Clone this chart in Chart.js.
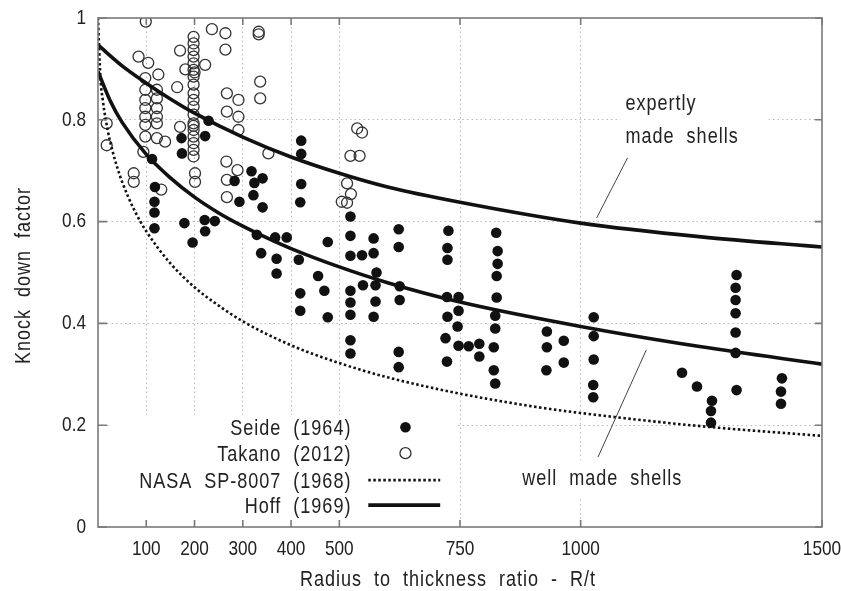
<!DOCTYPE html>
<html><head><meta charset="utf-8">
<script src="https://cdn.jsdelivr.net/npm/chart.js@4/dist/chart.umd.min.js"></script>
<style>html,body{margin:0;padding:0;background:#fff}canvas{display:block}</style>
</head><body>
<canvas id="c" width="841" height="591"></canvas>
<script>
// ---------- data ----------
const xTickValues = [100, 200, 300, 400, 500, 750, 1000, 1500];
const yTickValues = [0, 0.2, 0.4, 0.6, 0.8, 1];

const seideRt = [112,118,117,117,117,173,174,179,196,222,229,221,242,222,283,293,318,324,322,341,341,329,367,391,338,370,370,421,421,421,419,416,419,419,456,469,476,476,523,523,523,523,523,523,523,523,547,549,571,571,577,575,575,571,623,623,625,625,623,623,726,724,724,723,747,747,724,745,720,747,768,790,790,723,825,828,828,826,826,823,823,820,820,823,930,930,929,965,965,1027,1027,1027,1026,1026,1210,1241,1272,1270,1270,1323,1321,1321,1321,1321,1321,1323,1417,1415,1415];
const seideK  = [.723,.668,.639,.618,.587,.764,.734,.597,.559,.768,.798,.603,.601,.581,.680,.639,.699,.676,.652,.685,.628,.574,.569,.569,.538,.527,.498,.759,.733,.674,.638,.525,.459,.425,.493,.464,.560,.412,.610,.572,.533,.464,.441,.417,.367,.341,.534,.475,.567,.538,.500,.475,.443,.413,.585,.550,.473,.446,.344,.314,.582,.548,.525,.452,.452,.425,.413,.394,.371,.356,.355,.360,.335,.325,.578,.542,.517,.493,.451,.415,.390,.353,.308,.282,.384,.353,.308,.366,.323,.412,.375,.329,.279,.255,.303,.276,.248,.228,.205,.495,.470,.446,.420,.382,.342,.269,.292,.266,.242];

const takanoRt = [18,18,74,74,84,99,104,125,98,98,98,98,98,98,122,122,122,122,122,98,122,139,94,131,164,170,170,181,198,198,198,198,198,198,198,198,198,198,198,198,198,198,198,198,198,198,200,198,201,201,222,236,264,264,267,267,266,267,267,289,291,291,291,333,333,336,336,353,505,516,516,524,523,542,537,547];
const takanoK  = [.793,.750,.695,.678,.924,.993,.912,.889,.882,.859,.839,.823,.806,.790,.859,.842,.823,.806,.793,.767,.764,.757,.737,.663,.864,.936,.786,.899,.963,.950,.937,.924,.911,.898,.885,.869,.852,.839,.826,.810,.793,.780,.767,.754,.741,.728,.893,.788,.695,.678,.908,.978,.970,.938,.852,.816,.718,.682,.648,.701,.839,.806,.780,.973,.968,.875,.842,.734,.639,.637,.675,.654,.729,.729,.783,.775];

const nasaRt = [0,5,10,20,30,40,50,75,100,150,200,250,300,400,500,600,750,900,1000,1250,1500];
const nasaK  = [1.000,.883,.838,.780,.739,.706,.678,.623,.581,.518,.471,.435,.404,.357,.322,.294,.262,.237,.224,.198,.179];

const hoffUpperRt = [0,50,100,150,200,300,400,500,600,750,1000,1250,1500];
const hoffUpperK  = [.947,.906,.872,.841,.813,.766,.727,.695,.668,.638,.597,.570,.550];

const hoffLowerRt = [0,25,50,100,150,200,250,300,350,400,500,600,750,1000,1250,1500];
const hoffLowerK  = [.895,.838,.795,.732,.686,.648,.617,.591,.568,.547,.511,.480,.442,.394,.354,.320];

const legendLabels = ['Seide  (1964)', 'Takano  (2012)', 'NASA  SP-8007  (1968)', 'Hoff  (1969)'];
const xTitle = 'Radius  to  thickness  ratio  -  R/t';
const yTitle = 'Knock  down  factor';
const noteUpper = ['expertly', 'made  shells'];
const noteLower = 'well  made  shells';

// ---------- build ----------
const zip = (a, b) => a.map((v, i) => ({x: v, y: b[i]}));
const FONT = '"Liberation Sans", Arial, sans-serif';
const INK = '#222';
const SX = 0.82; // horizontal condensing of all text

const condense = {
  id: 'condense',
  beforeInit(chart) {
    const ctx = chart.ctx;
    const orig = CanvasRenderingContext2D.prototype.fillText;
    ctx.fillText = function (text, x, y, maxWidth) {
      this.save();
      this.translate(x, y);
      this.scale(SX, 1);
      if (maxWidth === undefined) orig.call(this, text, 0, 0);
      else orig.call(this, text, 0, 0, maxWidth / SX);
      this.restore();
    };
  }
};

const decor = {
  id: 'decor',
  beforeDatasetsDraw(chart) {
    const {ctx, scales: {x, y}} = chart;
    const boxes = [[25, 0, 740, 0.22], [1082, 0.741, 1389, 0.862], [865, 0.057, 1228, 0.132]];
    ctx.save();
    ctx.fillStyle = '#fff';
    for (const b of boxes) {
      const x0 = x.getPixelForValue(b[0]), x1 = x.getPixelForValue(b[2]);
      const y0 = y.getPixelForValue(b[3]), y1 = y.getPixelForValue(b[1]);
      ctx.fillRect(x0, y0, x1 - x0, y1 - y0);
    }
    ctx.restore();
  },
  afterDraw(chart) {
    const {ctx, chartArea: a, scales: {x, y}} = chart;
    ctx.save();
    // frame
    ctx.strokeStyle = '#7a7a7a';
    ctx.lineWidth = 1.6;
    ctx.strokeRect(a.left, a.top, a.right - a.left, a.bottom - a.top);
    // inward ticks
    ctx.beginPath();
    for (const v of xTickValues) {
      const px = x.getPixelForValue(v);
      ctx.moveTo(px, a.bottom); ctx.lineTo(px, a.bottom - 7);
      ctx.moveTo(px, a.top); ctx.lineTo(px, a.top + 7);
    }
    for (const v of yTickValues) {
      const py = y.getPixelForValue(v);
      ctx.moveTo(a.left, py); ctx.lineTo(a.left + 9, py);
      ctx.moveTo(a.right, py); ctx.lineTo(a.right - 7, py);
    }
    ctx.stroke();

    ctx.fillStyle = INK;
    ctx.font = '22px ' + FONT;
    ctx.letterSpacing = '1.2px';
    // axis titles
    ctx.textAlign = 'center';
    ctx.textBaseline = 'alphabetic';
    ctx.fillText(xTitle, (a.left + a.right) / 2 - 12, 586);
    ctx.save();
    ctx.translate(30, (a.top + a.bottom) / 2 + 3);
    ctx.rotate(-Math.PI / 2);
    ctx.fillText(yTitle, 0, 0);
    ctx.restore();

    // legend
    const rows = [0.196, 0.145, 0.092, 0.043];
    const tx = x.getPixelForValue(525), sx = x.getPixelForValue(637);
    const l0 = x.getPixelForValue(560), l1 = x.getPixelForValue(709);
    ctx.textAlign = 'right';
    rows.forEach((r, i) => {
      const py = y.getPixelForValue(r);
      ctx.fillStyle = INK;
      ctx.fillText(legendLabels[i], tx, py + 8);
      ctx.beginPath();
      if (i === 0) {
        ctx.fillStyle = '#111';
        ctx.arc(sx, py, 5.3, 0, Math.PI * 2); ctx.fill();
      } else if (i === 1) {
        ctx.strokeStyle = '#333'; ctx.lineWidth = 1.3;
        ctx.arc(sx, py, 5.5, 0, Math.PI * 2); ctx.stroke();
      } else if (i === 2) {
        ctx.strokeStyle = '#111'; ctx.lineWidth = 2.6; ctx.setLineDash([2.5, 2.5]);
        ctx.moveTo(l0, py); ctx.lineTo(l1, py); ctx.stroke(); ctx.setLineDash([]);
      } else {
        ctx.strokeStyle = '#111'; ctx.lineWidth = 3.6;
        ctx.moveTo(l0, py); ctx.lineTo(l1, py); ctx.stroke();
      }
    });

    // annotations
    ctx.fillStyle = INK;
    ctx.textAlign = 'left';
    ctx.fillText(noteUpper[0], x.getPixelForValue(1093), y.getPixelForValue(0.819));
    ctx.fillText(noteUpper[1], x.getPixelForValue(1093), y.getPixelForValue(0.754));
    ctx.fillText(noteLower, x.getPixelForValue(879), y.getPixelForValue(0.0825));
    ctx.strokeStyle = '#444'; ctx.lineWidth = 1;
    ctx.beginPath();
    ctx.moveTo(x.getPixelForValue(1097), y.getPixelForValue(0.725));
    ctx.lineTo(x.getPixelForValue(1033), y.getPixelForValue(0.607));
    ctx.moveTo(x.getPixelForValue(1136), y.getPixelForValue(0.348));
    ctx.lineTo(x.getPixelForValue(1036), y.getPixelForValue(0.1375));
    ctx.stroke();
    ctx.restore();
  }
};

const gridColor = (edgeVals) => (c) => (c.tick && edgeVals.includes(c.tick.value)) ? 'rgba(0,0,0,0)' : '#b8b8b8';

new Chart(document.getElementById('c'), {
  type: 'scatter',
  data: {
    datasets: [
      {label: 'Hoff (1969) expertly', data: zip(hoffUpperRt, hoffUpperK), showLine: true, pointRadius: 0,
       borderColor: '#111', borderWidth: 3.6, cubicInterpolationMode: 'monotone', order: 0},
      {label: 'Hoff (1969) well', data: zip(hoffLowerRt, hoffLowerK), showLine: true, pointRadius: 0,
       borderColor: '#111', borderWidth: 3.6, cubicInterpolationMode: 'monotone', order: 0},
      {label: 'NASA SP-8007 (1968)', data: zip(nasaRt, nasaK), showLine: true, pointRadius: 0,
       borderColor: '#111', borderWidth: 2.6, borderDash: [2.5, 2.5], cubicInterpolationMode: 'monotone', order: 0},
      {label: 'Seide (1964)', data: zip(seideRt, seideK), pointRadius: 5.3, backgroundColor: '#111',
       borderColor: '#111', borderWidth: 0, order: 1},
      {label: 'Takano (2012)', data: zip(takanoRt, takanoK), pointRadius: 5.5, backgroundColor: 'rgba(255,255,255,0)',
       borderColor: '#333', borderWidth: 1.3, order: 1}
    ]
  },
  options: {
    responsive: false,
    devicePixelRatio: 1,
    animation: false,
    events: [],
    layout: {padding: {top: 18, right: 19, bottom: 0, left: 0}},
    plugins: {legend: {display: false}, tooltip: {enabled: false}},
    scales: {
      x: {
        type: 'linear', min: 0, max: 1500,
        afterBuildTicks: (s) => { s.ticks = xTickValues.map(v => ({value: v})); },
        afterFit: (s) => { s.height = 64; s.paddingLeft = 0; s.paddingRight = 0; },
        grid: {color: gridColor([0, 1500]), lineWidth: 1, drawTicks: false},
        border: {display: false, dash: [1.5, 3]},
        ticks: {autoSkip: false, maxRotation: 0, padding: 10, color: INK, font: {family: FONT, size: 21},
                callback: (v) => String(v)}
      },
      y: {
        type: 'linear', min: 0, max: 1,
        afterBuildTicks: (s) => { s.ticks = yTickValues.map(v => ({value: v})); },
        afterFit: (s) => { s.width = 98; s.paddingTop = 0; s.paddingBottom = 0; },
        grid: {color: gridColor([0, 1]), lineWidth: 1, drawTicks: false},
        border: {display: false, dash: [1.5, 3]},
        ticks: {padding: 12, color: INK, font: {family: FONT, size: 21}, callback: (v) => String(v)}
      }
    }
  },
  plugins: [condense, decor]
});
</script>
</body></html>
